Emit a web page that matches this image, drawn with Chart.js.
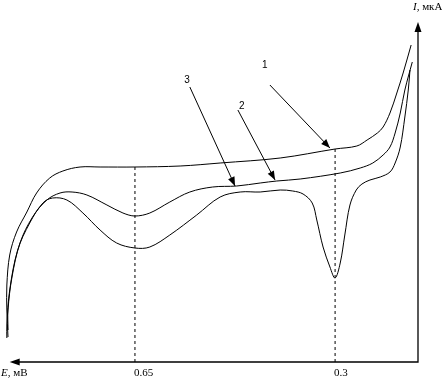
<!DOCTYPE html>
<html>
<head>
<meta charset="utf-8">
<script src="https://cdn.jsdelivr.net/npm/chart.js@4/dist/chart.umd.min.js"></script>
<style>
    body { margin: 0; background: #fff; }
    canvas { display: block; }
</style>
</head>
<body>
<canvas id="chart" width="442" height="387"></canvas>
<script>
// E, mV (axis runs right to left) and I, uA (arbitrary units)
const curve1E = [0.872, 0.874, 0.874, 0.869, 0.857, 0.839, 0.822, 0.799, 0.776, 0.746, 0.711, 0.650, 0.571, 0.501, 0.396, 0.300, 0.262, 0.244, 0.226, 0.216, 0.204, 0.192, 0.181, 0.167];
const curve1I = [2.5, 5.2, 7.7, 10.7, 13.0, 15.0, 16.9, 18.4, 19.1, 19.5, 19.5, 19.5, 19.6, 19.9, 20.4, 21.3, 21.6, 22.2, 22.9, 23.5, 24.9, 26.9, 28.9, 31.7];

const curve2E = [0.872, 0.872, 0.865, 0.851, 0.829, 0.804, 0.781, 0.760, 0.734, 0.699, 0.671, 0.650, 0.624, 0.589, 0.554, 0.514, 0.472, 0.431, 0.402, 0.361, 0.291, 0.256, 0.234, 0.216, 0.204, 0.195, 0.186, 0.178, 0.165];
const curve2I = [3.2, 5.2, 8.5, 11.9, 14.5, 16.2, 16.9, 17.0, 16.7, 15.7, 14.9, 14.6, 14.9, 16.0, 17.0, 17.5, 17.6, 17.9, 18.1, 18.3, 18.9, 19.4, 19.9, 20.7, 21.5, 22.9, 24.9, 27.2, 30.0];

const curve3E = [0.874, 0.874, 0.869, 0.855, 0.834, 0.811, 0.794, 0.769, 0.741, 0.711, 0.682, 0.650, 0.624, 0.589, 0.542, 0.501, 0.466, 0.431, 0.396, 0.374, 0.356, 0.340, 0.332, 0.321, 0.309, 0.300, 0.291, 0.283, 0.274, 0.263, 0.253, 0.239, 0.221, 0.204, 0.195, 0.186, 0.178, 0.172, 0.169];
const curve3I = [2.4, 3.7, 7.2, 11.2, 13.9, 15.9, 16.4, 16.2, 14.9, 13.2, 11.9, 11.4, 11.5, 12.7, 14.7, 16.5, 17.0, 17.0, 17.2, 17.1, 16.8, 15.9, 14.2, 11.5, 9.5, 8.4, 9.9, 12.7, 15.7, 17.2, 17.8, 18.2, 18.5, 19.0, 19.9, 21.5, 24.5, 27.2, 29.2];

// marked potentials with dashed guides (E, top of guide in I)
const guideE = [0.65, 0.3];
const guideTop = [19.5, 21.3];
const guideLabels = ['0.65', '0.3'];

// numbered pointers: label position, arrow start, arrow tip
const pointerLabels = ['1', '2', '3'];
const pointerLabelE = [0.423, 0.463, 0.559];
const pointerLabelI = [29.7, 25.6, 28.2];
const pointerFromE = [0.414, 0.470, 0.554];
const pointerFromI = [27.7, 25.2, 27.5];
const pointerToE = [0.309, 0.405, 0.475];
const pointerToI = [21.4, 18.2, 17.6];

const xMin = 0.155;
const xMax = 0.879;
const xArrowTip = 0.869;
const yMax = 34;

function toPoints(es, is) {
    return es.map((e, i) => ({ x: e, y: is[i] }));
}

function curve(es, is) {
    return {
        data: toPoints(es, is),
        borderColor: '#000',
        borderWidth: 1,
        pointRadius: 0,
        tension: 0.35,
        fill: false
    };
}

const datasets = [curve(curve1E, curve1I), curve(curve2E, curve2I), curve(curve3E, curve3I)];
guideE.forEach((e, i) => {
    datasets.push({
        data: [{ x: e, y: 0 }, { x: e, y: guideTop[i] }],
        borderColor: '#000',
        borderWidth: 1,
        borderDash: [3, 3],
        pointRadius: 0,
        tension: 0
    });
});

function arrowHead(ctx, x1, y1, x2, y2, len, half) {
    const a = Math.atan2(y2 - y1, x2 - x1);
    ctx.beginPath();
    ctx.moveTo(x2, y2);
    ctx.lineTo(x2 - len * Math.cos(a) + half * Math.sin(a), y2 - len * Math.sin(a) - half * Math.cos(a));
    ctx.lineTo(x2 - len * Math.cos(a) - half * Math.sin(a), y2 - len * Math.sin(a) + half * Math.cos(a));
    ctx.closePath();
    ctx.fill();
}

const decor = {
    id: 'decor',
    afterDatasetsDraw(chart) {
        const ctx = chart.ctx;
        const xs = chart.scales.x;
        const ys = chart.scales.y;
        const ox = xs.getPixelForValue(xMin);
        const oy = ys.getPixelForValue(0);
        const tipX = xs.getPixelForValue(xArrowTip);
        const tipY = ys.getPixelForValue(yMax);

        ctx.save();
        ctx.strokeStyle = '#000';
        ctx.fillStyle = '#000';
        ctx.lineWidth = 1.3;

        // axes
        ctx.beginPath();
        ctx.moveTo(ox, tipY + 6);
        ctx.lineTo(ox, oy);
        ctx.lineTo(tipX + 6, oy);
        ctx.stroke();
        arrowHead(ctx, ox, oy, ox, tipY, 10, 3.5);
        arrowHead(ctx, ox, oy, tipX, oy, 10, 3.5);

        // pointers
        ctx.lineWidth = 1;
        pointerLabels.forEach((t, i) => {
            const x1 = xs.getPixelForValue(pointerFromE[i]);
            const y1 = ys.getPixelForValue(pointerFromI[i]);
            const x2 = xs.getPixelForValue(pointerToE[i]);
            const y2 = ys.getPixelForValue(pointerToI[i]);
            ctx.beginPath();
            ctx.moveTo(x1, y1);
            ctx.lineTo(x2, y2);
            ctx.stroke();
            arrowHead(ctx, x1, y1, x2, y2, 9, 3.5);

            ctx.font = '10px "Liberation Sans"';
            ctx.textAlign = 'center';
            ctx.textBaseline = 'middle';
            ctx.fillText(t, xs.getPixelForValue(pointerLabelE[i]), ys.getPixelForValue(pointerLabelI[i]));
        });

        // tick labels under the guides
        ctx.font = '11px "Liberation Serif"';
        ctx.textAlign = 'left';
        ctx.textBaseline = 'alphabetic';
        guideE.forEach((e, i) => {
            ctx.fillText(guideLabels[i], xs.getPixelForValue(e) - 1, oy + 14);
        });

        // axis titles
        ctx.font = 'italic 11px "Liberation Serif"';
        ctx.fillText('E', 1, oy + 14);
        let w = ctx.measureText('E').width;
        ctx.font = '11px "Liberation Serif"';
        ctx.fillText(', мВ', 1 + w, oy + 14);

        ctx.font = 'italic 11px "Liberation Serif"';
        ctx.fillText('I', 413, 10);
        w = ctx.measureText('I').width;
        ctx.font = '11px "Liberation Serif"';
        ctx.fillText(', мкА', 413 + w, 10);

        ctx.restore();
    }
};

new Chart(document.getElementById('chart'), {
    type: 'line',
    data: { datasets: datasets },
    options: {
        responsive: false,
        animation: false,
        layout: { padding: { left: 4, right: 24, top: 22, bottom: 25 } },
        scales: {
            x: { type: 'linear', reverse: true, min: xMin, max: xMax, display: false },
            y: { type: 'linear', min: 0, max: yMax, display: false }
        },
        plugins: {
            legend: { display: false },
            tooltip: { enabled: false }
        }
    },
    plugins: [decor]
});
</script>
</body>
</html>
